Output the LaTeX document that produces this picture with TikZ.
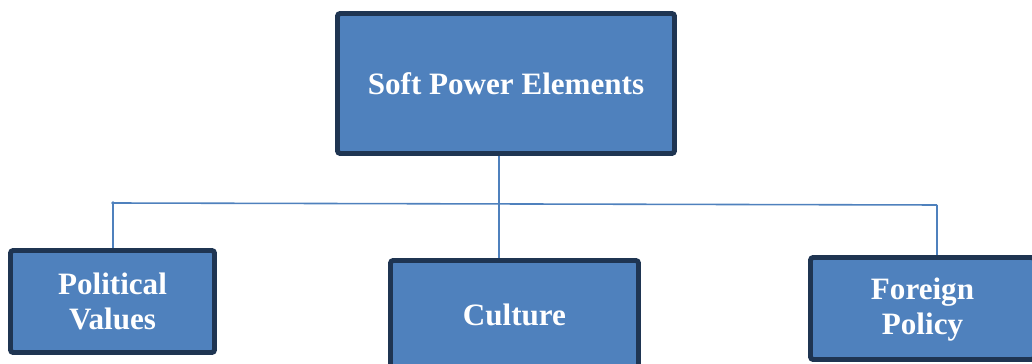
\documentclass[tikz,border=0pt]{standalone}
\usepackage{fontspec}
\setmainfont{Liberation Serif}
\usetikzlibrary{backgrounds}
\definecolor{boxblue}{HTML}{4F81BD}
\definecolor{navy}{HTML}{1F3552}

\begin{document}
\begin{tikzpicture}[x=0.02cm,y=-0.02cm,
  elem/.style={draw=navy,fill=boxblue,line width=2.8pt,rounded corners=1.5pt,
    text=white,font=\bfseries\fontsize{17.7}{20}\selectfont,align=center,inner sep=0pt},
  link/.style={boxblue,line width=0.9pt}]
\useasboundingbox (0,0) rectangle (1032,364);

% boxes
\node[elem,minimum width=6.74cm,minimum height=2.8cm] (spe) at (506,83.5) {Soft Power Elements};
\node[elem,minimum width=4.08cm,minimum height=2.04cm] (pv) at (112.5,301.5) {Political\\Values};
\node[elem,minimum width=4.96cm,minimum height=2.18cm] (cul) at (514.5,315) {Culture};
\node[elem,minimum width=4.48cm,minimum height=2.04cm,text depth=0.1cm] (fp) at (922.5,308.5) {Foreign\\Policy};

% branch points
\coordinate (jl) at (113,203);
\coordinate (jm) at (499,204);
\coordinate (jr) at (937,205);

\begin{scope}[on background layer]
\draw[link] (spe.south -| jm) -- (cul.north -| jm);
\draw[link] (jl) -- (jr);
\draw[link] (jl) -- (pv.north -| jl);
\draw[link] (jr) -- (fp.north -| jr);
\fill[boxblue] (jl) circle (1.1pt);
\end{scope}
\end{tikzpicture}
\end{document}
